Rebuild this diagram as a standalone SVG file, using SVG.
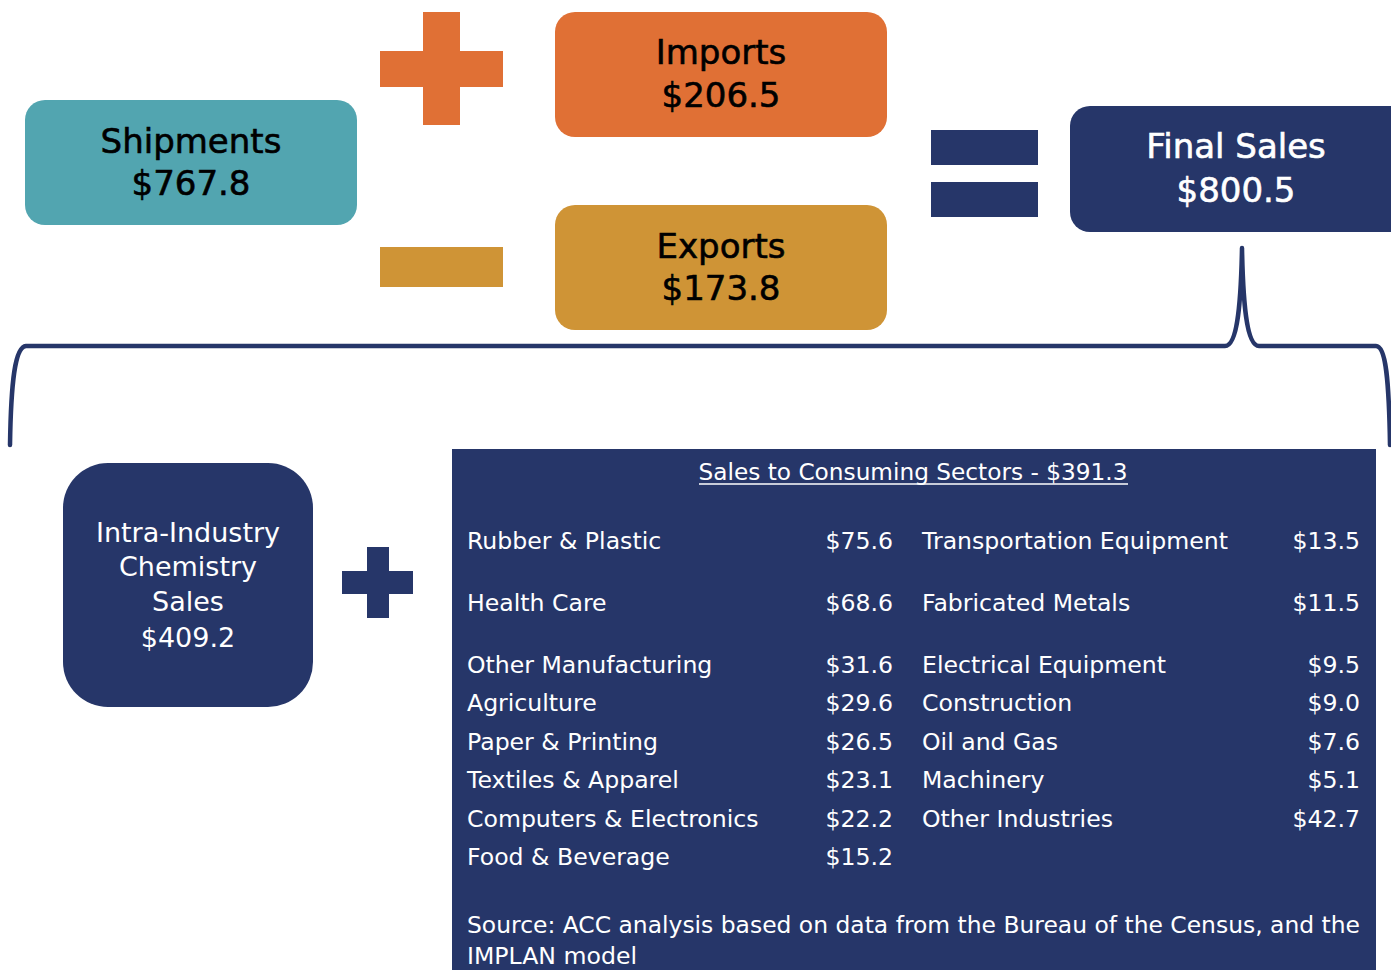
<svg xmlns="http://www.w3.org/2000/svg" width="1391" height="970" viewBox="0 0 1391 970">
  <style>
    .lbl { font-family: "DejaVu Sans", "Liberation Sans", sans-serif; }
    .big { font-size: 34px; text-anchor: middle; stroke-width: 0.6px; }
    .mid { font-size: 27px; text-anchor: middle; fill: #ffffff; }
    .tbl { font-size: 23.6px; fill: #ffffff; }
    .val { text-anchor: end; }
    .dark { fill: #000000; stroke: #000000; }
    .light { fill: #ffffff; stroke: #ffffff; }
    .navy { fill: #263669; }
  </style>

  <!-- equation row -->
  <g id="shipments">
    <rect x="25" y="100" width="332" height="125" rx="20" fill="#52A5B0"/>
    <text class="lbl big dark" x="191" y="153">Shipments</text>
    <text class="lbl big dark" x="191" y="195">$767.8</text>
  </g>

  <g id="imports">
    <rect x="555" y="12" width="332" height="125" rx="20" fill="#E07035"/>
    <text class="lbl big dark" x="721" y="64">Imports</text>
    <text class="lbl big dark" x="721" y="107">$206.5</text>
  </g>

  <g id="exports">
    <rect x="555" y="205" width="332" height="125" rx="20" fill="#CF9436"/>
    <text class="lbl big dark" x="721" y="258">Exports</text>
    <text class="lbl big dark" x="721" y="300">$173.8</text>
  </g>

  <g id="final-sales">
    <rect x="1070" y="106" width="340" height="126" rx="20" class="navy"/>
    <text class="lbl big light" x="1236" y="158">Final Sales</text>
    <text class="lbl big light" x="1236" y="202">$800.5</text>
  </g>

  <!-- operators -->
  <g id="operators">
    <rect x="423" y="12" width="37" height="113" fill="#E07035"/>
    <rect x="380" y="51" width="123" height="36" fill="#E07035"/>
    <rect x="380" y="247" width="123" height="40" fill="#CF9436"/>
    <rect x="931" y="130" width="107" height="35" class="navy"/>
    <rect x="931" y="182" width="107" height="35" class="navy"/>
    <rect x="367" y="547" width="22" height="71" class="navy"/>
    <rect x="342" y="571" width="71" height="23" class="navy"/>
  </g>

  <!-- brace splitting final sales into its two parts -->
  <g id="connectors" fill="none" stroke="#263669" stroke-width="4.5" stroke-linecap="round" stroke-linejoin="round">
    <path d="M 10 445 C 11 380 15 347 26 346 L 1225 346 C 1238 346 1241 300 1242 248 C 1243 300 1246 346 1259 346 L 1376 346 C 1386 346 1389 380 1390 445"/>
  </g>

  <g id="intra-industry">
    <rect x="63" y="463" width="250" height="244" rx="45" class="navy"/>
    <text class="lbl mid" x="188" y="542">Intra-Industry</text>
    <text class="lbl mid" x="188" y="576">Chemistry</text>
    <text class="lbl mid" x="188" y="611">Sales</text>
    <text class="lbl mid" x="188" y="647">$409.2</text>
  </g>

  <g id="consuming-sectors">
    <rect x="452" y="449" width="924" height="521" class="navy"/>
    <text class="lbl tbl" x="913" y="480" text-anchor="middle" textLength="429" lengthAdjust="spacingAndGlyphs">Sales to Consuming Sectors - $391.3</text>
    <line x1="699" y1="484" x2="1128" y2="484" stroke="#ffffff" stroke-width="1.5"/>

    <g class="lbl tbl">
      <text x="467" y="549">Rubber &amp; Plastic</text>
      <text x="467" y="611">Health Care</text>
      <text x="467" y="673">Other Manufacturing</text>
      <text x="467" y="711">Agriculture</text>
      <text x="467" y="750">Paper &amp; Printing</text>
      <text x="467" y="788">Textiles &amp; Apparel</text>
      <text x="467" y="827">Computers &amp; Electronics</text>
      <text x="467" y="865">Food &amp; Beverage</text>

      <text class="val" x="893" y="549">$75.6</text>
      <text class="val" x="893" y="611">$68.6</text>
      <text class="val" x="893" y="673">$31.6</text>
      <text class="val" x="893" y="711">$29.6</text>
      <text class="val" x="893" y="750">$26.5</text>
      <text class="val" x="893" y="788">$23.1</text>
      <text class="val" x="893" y="827">$22.2</text>
      <text class="val" x="893" y="865">$15.2</text>

      <text x="922" y="549">Transportation Equipment</text>
      <text x="922" y="611">Fabricated Metals</text>
      <text x="922" y="673">Electrical Equipment</text>
      <text x="922" y="711">Construction</text>
      <text x="922" y="750">Oil and Gas</text>
      <text x="922" y="788">Machinery</text>
      <text x="922" y="827">Other Industries</text>

      <text class="val" x="1360" y="549">$13.5</text>
      <text class="val" x="1360" y="611">$11.5</text>
      <text class="val" x="1360" y="673">$9.5</text>
      <text class="val" x="1360" y="711">$9.0</text>
      <text class="val" x="1360" y="750">$7.6</text>
      <text class="val" x="1360" y="788">$5.1</text>
      <text class="val" x="1360" y="827">$42.7</text>

      <text x="467" y="933" textLength="893" lengthAdjust="spacingAndGlyphs">Source: ACC analysis based on data from the Bureau of the Census, and the</text>
      <text x="467" y="964">IMPLAN model</text>
    </g>
  </g>
</svg>
